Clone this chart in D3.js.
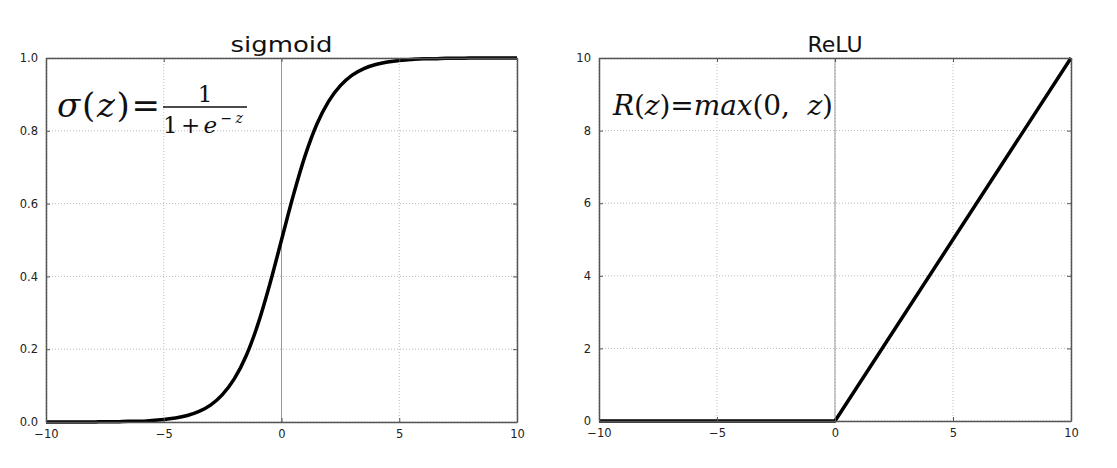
<!DOCTYPE html>
<html><head><meta charset="utf-8">
<script src="https://cdn.jsdelivr.net/npm/d3@7"></script>
<style>
html,body{margin:0;padding:0;background:#fff;}
svg{display:block;}
text{white-space:pre;}
</style></head>
<body>
<svg id="chart" width="1117" height="468"></svg>
<script>
// ---- data ----
const sigmoidX = [-10,-9.5,-9,-8.5,-8,-7.5,-7,-6.5,-6,-5.5,-5,-4.5,-4,-3.5,-3,-2.5,-2,-1.5,-1,-0.5,0,0.5,1,1.5,2,2.5,3,3.5,4,4.5,5,5.5,6,6.5,7,7.5,8,8.5,9,9.5,10];
const sigmoidY = [0,0,0,0,0,0.001,0.001,0.002,0.002,0.004,0.007,0.011,0.018,0.029,0.047,0.076,0.119,0.182,0.269,0.378,0.5,0.622,0.731,0.818,0.881,0.924,0.953,0.971,0.982,0.989,0.993,0.996,0.998,0.998,0.999,0.999,1,1,1,1,1];
const reluX = [-10,0,10];
const reluY = [0,0,10];
const xTicks = [-10,-5,0,5,10];
const sigmoidYTicks = [0,0.2,0.4,0.6,0.8,1.0];
const reluYTicks = [0,2,4,6,8,10];
const titles = ["sigmoid","ReLU"];

const svg = d3.select("#chart");

function panel(opts){
  const {x0,x1,y0,y1,xs,ys,yDomain,yTicks,yFmt,title,curve,titleLen} = opts;
  const x = d3.scaleLinear().domain([-10,10]).range([x0,x1]);
  const y = d3.scaleLinear().domain(yDomain).range([y1,y0]);
  const g = svg.append("g");
  // grid
  g.append("g").selectAll("line").data(xTicks).join("line")
    .attr("x1",d=>x(d)).attr("x2",d=>x(d)).attr("y1",y0).attr("y2",y1)
    .attr("stroke","#bbb").attr("stroke-width",1).attr("stroke-dasharray","1,2");
  g.append("g").selectAll("line").data(yTicks).join("line")
    .attr("y1",d=>y(d)).attr("y2",d=>y(d)).attr("x1",x0).attr("x2",x1)
    .attr("stroke","#bbb").attr("stroke-width",1).attr("stroke-dasharray","1,2");
  // vertical line at 0
  g.append("line").attr("x1",x(0)).attr("x2",x(0)).attr("y1",y0).attr("y2",y1)
    .attr("stroke","#999").attr("stroke-width",1);
  // curve
  const pts = xs.map((v,i)=>[v,ys[i]]);
  g.append("path").datum(pts)
    .attr("d", d3.line().x(d=>x(d[0])).y(d=>y(d[1])).curve(curve))
    .attr("fill","none").attr("stroke","#000").attr("stroke-width",3.5)
    .attr("stroke-linejoin","round");
  // axes (ticks inside, on all four sides)
  const axB = d3.axisBottom(x).tickValues(xTicks).tickSizeInner(-4).tickSizeOuter(0).tickPadding(8).tickFormat(d=>d<0?"\u2212"+Math.abs(d):d);
  const axL = d3.axisLeft(y).tickValues(yTicks).tickSizeInner(-4).tickSizeOuter(0).tickPadding(8).tickFormat(yFmt);
  const axT = d3.axisTop(x).tickValues(xTicks).tickSizeInner(-4).tickSizeOuter(0).tickFormat("");
  const axR = d3.axisRight(y).tickValues(yTicks).tickSizeInner(-4).tickSizeOuter(0).tickFormat("");
  [[axB,`translate(0,${y1})`],[axL,`translate(${x0},0)`],[axT,`translate(0,${y0})`],[axR,`translate(${x1},0)`]].forEach(([ax,t])=>{
    const a = g.append("g").attr("transform",t).call(ax);
    a.select(".domain").attr("stroke","#555").attr("stroke-width",1.5);
    a.selectAll(".tick line").attr("stroke","#555");
    a.selectAll("text").attr("font-family","DejaVu Sans").attr("font-size",11.5).attr("fill","#222");
  });
  // title
  const tt = g.append("text").attr("x",(x0+x1)/2).attr("y",y0-6).attr("text-anchor","middle")
    .attr("font-family","DejaVu Sans").attr("font-size",22).attr("fill","#111").text(title);
  if (titleLen) tt.attr("textLength",titleLen).attr("lengthAdjust","spacingAndGlyphs");
  return {x,y,g};
}

const p1 = panel({x0:46,x1:517,y0:58,y1:422,xs:sigmoidX,ys:sigmoidY,yDomain:[0,1],yTicks:sigmoidYTicks,yFmt:d3.format(".1f"),title:titles[0],curve:d3.curveMonotoneX,titleLen:102});
const p2 = panel({x0:599,x1:1071,y0:58,y1:421,xs:reluX,ys:reluY,yDomain:[0,10],yTicks:reluYTicks,yFmt:d3.format("d"),title:titles[1],curve:d3.curveLinear});

// sigmoid formula
const serif = "DejaVu Serif";
const f1 = p1.g.append("text").attr("x",57).attr("y",117).attr("font-family",serif).attr("font-size",34).attr("fill","#111")
  .attr("textLength",103).attr("lengthAdjust","spacing");
f1.append("tspan").attr("font-style","italic").text("σ");
f1.append("tspan").text("(");
f1.append("tspan").attr("font-style","italic").text("z");
f1.append("tspan").text(")");
f1.append("tspan").text("=");
p1.g.append("line").attr("x1",163).attr("x2",247).attr("y1",107).attr("y2",107).attr("stroke","#111").attr("stroke-width",1.5);
p1.g.append("text").attr("x",205).attr("y",102).attr("text-anchor","middle").attr("font-family",serif).attr("font-size",23).attr("fill","#111").text("1");
const den = p1.g.append("text").attr("x",163).attr("y",133).attr("font-family",serif).attr("font-size",23).attr("fill","#111")
  .attr("textLength",80).attr("lengthAdjust","spacing");
den.append("tspan").text("1");
den.append("tspan").text("+");
den.append("tspan").attr("font-style","italic").text("e");
den.append("tspan").attr("dy",-10).attr("font-size",14).text("\u2212");
den.append("tspan").attr("font-size",14).attr("font-style","italic").text("z");

// relu formula
const f2 = p2.g.append("text").attr("x",613).attr("y",115).attr("font-family",serif).attr("font-size",28).attr("fill","#111")
  .attr("textLength",220).attr("lengthAdjust","spacing");
f2.append("tspan").attr("font-style","italic").text("R");
f2.append("tspan").text("(");
f2.append("tspan").attr("font-style","italic").text("z");
f2.append("tspan").text(")");
f2.append("tspan").text("=");
f2.append("tspan").attr("font-style","italic").text("max");
f2.append("tspan").text("(0,  ");
f2.append("tspan").attr("font-style","italic").text("z");
f2.append("tspan").text(")");
</script>
</body></html>
